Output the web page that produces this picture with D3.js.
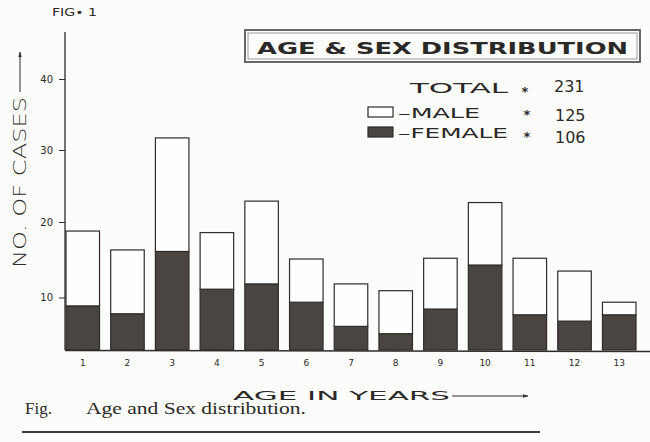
<!DOCTYPE html>
<html>
<head>
<meta charset="utf-8">
<script src="https://cdn.jsdelivr.net/npm/d3@7"></script>
<style>
  body { margin: 0; background: #fcfcfa; }
  svg { display: block; }
  text { fill: #2b2927; }
</style>
</head>
<body>
<svg id="chart" width="650" height="442"></svg>
<script>
// values (the hand drawn axis is uneven, see y scale)
const ages = ['1', '2', '3', '4', '5', '6', '7', '8', '9', '10', '11', '12', '13'];
const female = [8.4, 6.9, 16.1, 11.1, 11.8, 9.1, 4.5, 3.1, 7.8, 14.3, 6.7, 5.5, 6.7];
const male = [10.4, 9.4, 15.6, 7.5, 11.1, 6.0, 7.3, 7.8, 7.4, 8.4, 8.5, 8.0, 2.4];
const yTicks = [10, 20, 30, 40];
const totals = [
  { label: 'TOTAL', value: '231' },
  { label: '\u2013MALE', value: '125' },
  { label: '\u2013FEMALE', value: '106' }
];

const ink = '#2f2c2a';
const dark = '#4b4541';

const svg = d3.select('#chart');

// table for the stack
const rows = ages.map((a, i) => ({ age: a, female: female[i], male: male[i] }));
const series = d3.stack().keys(['female', 'male'])(rows);

const x = d3.scaleBand()
  .domain(ages)
  .range([66, 636])
  .paddingInner(0.25)
  .paddingOuter(0);

// the drawn axis is not evenly spaced, so follow its tick positions
const y = d3.scaleLinear()
  .domain([0, 10, 20, 30, 40])
  .range([350, 297.5, 222, 150, 79]);

// bars
const graph = svg.append('g');

graph.selectAll('g.layer')
  .data(series)
  .enter()
  .append('g')
  .attr('class', 'layer')
  .attr('fill', (d) => (d.key === 'female' ? dark : '#fefefe'))
  .selectAll('rect')
  .data((d) => d)
  .enter()
  .append('rect')
  .attr('x', (d) => x(d.data.age))
  .attr('y', (d) => y(d[1]))
  .attr('width', x.bandwidth())
  .attr('height', (d) => y(d[0]) - y(d[1]))
  .attr('stroke', ink)
  .attr('stroke-width', 1.2);

// axes
const yAxis = svg.append('g')
  .attr('transform', 'translate(65,0)')
  .call(d3.axisLeft(y).tickValues(yTicks).tickSize(6).tickPadding(6));

yAxis.select('.domain').remove();
yAxis.selectAll('line').attr('stroke', ink).attr('stroke-width', 1);
yAxis.selectAll('text')
  .attr('font-family', 'DejaVu Sans')
  .attr('font-size', 10)
  .attr('fill', ink);

svg.append('line')
  .attr('x1', 65).attr('x2', 65)
  .attr('y1', 32).attr('y2', 350)
  .attr('stroke', ink).attr('stroke-width', 1.3);

const xAxis = svg.append('g')
  .attr('transform', 'translate(0,350)')
  .call(d3.axisBottom(x).tickSize(0).tickPadding(10));

xAxis.select('.domain').remove();
xAxis.selectAll('text')
  .attr('font-family', 'DejaVu Sans')
  .attr('font-size', 9)
  .attr('fill', ink);

svg.append('line')
  .attr('x1', 65).attr('x2', 650)
  .attr('y1', 350.5).attr('y2', 351.5)
  .attr('stroke', ink).attr('stroke-width', 1.5);

// arrow head
svg.append('defs')
  .append('marker')
  .attr('id', 'arrow')
  .attr('viewBox', '0 0 10 10')
  .attr('refX', 9).attr('refY', 5)
  .attr('markerWidth', 6).attr('markerHeight', 6)
  .attr('orient', 'auto')
  .append('path')
  .attr('d', 'M0,2L10,5L0,8Z')
  .attr('fill', ink);

// y label
svg.append('text')
  .attr('transform', 'translate(26,268) rotate(-90)')
  .attr('font-family', 'DejaVu Sans')
  .attr('font-size', 18)
  .attr('font-weight', 300)
  .attr('textLength', 171)
  .attr('lengthAdjust', 'spacingAndGlyphs')
  .text('NO. OF  CASES');

svg.append('line')
  .attr('x1', 20).attr('x2', 20)
  .attr('y1', 92).attr('y2', 52)
  .attr('stroke', ink).attr('stroke-width', 1)
  .attr('marker-end', 'url(#arrow)');

// x label
svg.append('text')
  .attr('x', 233).attr('y', 400)
  .attr('font-family', 'DejaVu Sans')
  .attr('font-size', 13)
  .attr('textLength', 217)
  .attr('lengthAdjust', 'spacingAndGlyphs')
  .text('AGE    IN    YEARS');

svg.append('line')
  .attr('x1', 452).attr('x2', 528)
  .attr('y1', 396).attr('y2', 396)
  .attr('stroke', ink).attr('stroke-width', 1)
  .attr('marker-end', 'url(#arrow)');

// figure number
svg.append('text')
  .attr('x', 52).attr('y', 16)
  .attr('font-family', 'DejaVu Sans')
  .attr('font-size', 11)
  .attr('textLength', 45)
  .attr('lengthAdjust', 'spacingAndGlyphs')
  .text('FIG\u2022 1');

// title box
svg.append('rect')
  .attr('x', 245).attr('y', 30)
  .attr('width', 395).attr('height', 32)
  .attr('fill', 'none')
  .attr('stroke', '#5a5654').attr('stroke-width', 1.8);

svg.append('rect')
  .attr('x', 248).attr('y', 33)
  .attr('width', 389).attr('height', 26)
  .attr('fill', 'none')
  .attr('stroke', '#8a8683').attr('stroke-width', 0.8);

svg.append('text')
  .attr('x', 257).attr('y', 54)
  .attr('font-family', 'DejaVu Sans')
  .attr('font-weight', 'bold')
  .attr('font-size', 16)
  .attr('textLength', 371)
  .attr('lengthAdjust', 'spacingAndGlyphs')
  .text('AGE  &  SEX  DISTRIBUTION');

// totals / legend
const legendY = [93, 118, 138];
const legendX = [410, 398, 398];
const labelLen = [98, 82, 110];
const starY = [96, 119, 141];
const numY = [92, 121, 143];

svg.selectAll('.leg-label')
  .data(totals)
  .enter()
  .append('text')
  .attr('class', 'leg-label')
  .attr('x', (d, i) => legendX[i])
  .attr('y', (d, i) => legendY[i])
  .attr('font-family', 'DejaVu Sans')
  .attr('font-size', 14)
  .attr('textLength', (d, i) => labelLen[i])
  .attr('lengthAdjust', 'spacingAndGlyphs')
  .text((d) => d.label);

svg.selectAll('.leg-star')
  .data(totals)
  .enter()
  .append('text')
  .attr('class', 'leg-star')
  .attr('x', (d, i) => (i === 0 ? 525 : 527))
  .attr('y', (d, i) => starY[i])
  .attr('text-anchor', 'middle')
  .attr('font-family', 'DejaVu Sans')
  .attr('font-weight', 'bold')
  .attr('font-size', 13)
  .text('*');

svg.selectAll('.leg-num')
  .data(totals)
  .enter()
  .append('text')
  .attr('class', 'leg-num')
  .attr('x', (d, i) => (i === 0 ? 554 : 555))
  .attr('y', (d, i) => numY[i])
  .attr('font-family', 'DejaVu Sans')
  .attr('font-size', 16)
  .text((d) => d.value);

svg.selectAll('.leg-box')
  .data(['male', 'female'])
  .enter()
  .append('rect')
  .attr('class', 'leg-box')
  .attr('x', 368)
  .attr('y', (d, i) => 107 + i * 20)
  .attr('width', 25)
  .attr('height', 10)
  .attr('fill', (d) => (d === 'female' ? dark : '#fefefe'))
  .attr('stroke', ink)
  .attr('stroke-width', 1.2);

// caption
svg.append('text')
  .attr('x', 25).attr('y', 414)
  .attr('font-family', 'Liberation Serif')
  .attr('font-size', 17)
  .attr('fill', '#1f1d1c')
  .text('Fig.');

svg.append('text')
  .attr('x', 86).attr('y', 414)
  .attr('font-family', 'Liberation Serif')
  .attr('font-size', 17)
  .attr('textLength', 220)
  .attr('lengthAdjust', 'spacingAndGlyphs')
  .attr('fill', '#1f1d1c')
  .text('Age and Sex distribution.');

svg.append('line')
  .attr('x1', 22).attr('x2', 540)
  .attr('y1', 432).attr('y2', 432)
  .attr('stroke', '#3d3a38').attr('stroke-width', 2);
</script>
</body>
</html>
